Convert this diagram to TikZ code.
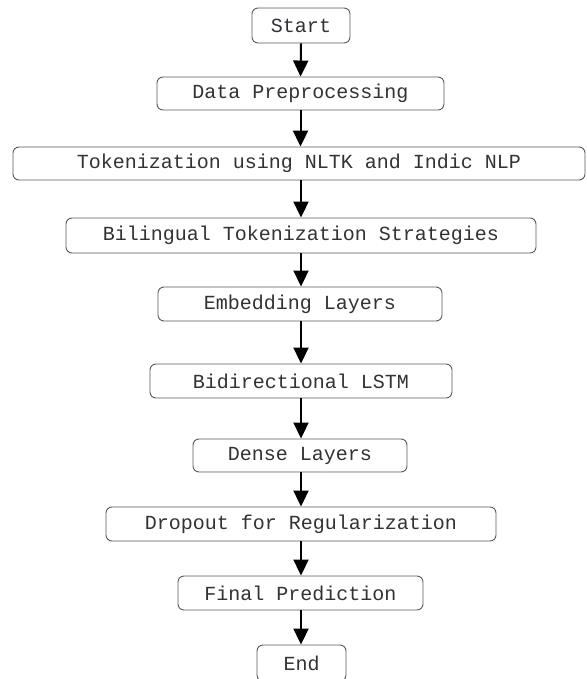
\documentclass[tikz,border=0pt]{standalone}
\usepackage{fontspec}
\setmonofont{Liberation Mono}
\usetikzlibrary{arrows.meta}
\definecolor{txt}{RGB}{50,50,55}
\definecolor{bord}{RGB}{90,90,90}
\tikzset{
  box/.style={draw=bord, line width=0.9pt, rounded corners=6pt, fill=white,
    inner sep=0pt, text=txt, font=\ttfamily\fontsize{20}{23}\selectfont},
  arr/.style={-{Triangle[length=16pt,width=15pt]}, line width=2pt, black}
}
\begin{document}
\begin{tikzpicture}[x=1pt,y=-1pt]
\useasboundingbox (0,0) rectangle (586,679);
\node[box, minimum width=98pt, minimum height=35pt] (start) at (301,25.5) {Start};
\node[box, minimum width=287pt, minimum height=33pt] (pre) at (300.5,93.5) {Data Preprocessing};
\node[box, minimum width=572pt, minimum height=33pt] (tok) at (299,163.5) {Tokenization using NLTK and Indic NLP};
\node[box, minimum width=470pt, minimum height=35pt] (bil) at (301,235.5) {Bilingual Tokenization Strategies};
\node[box, minimum width=284pt, minimum height=34pt] (emb) at (300,304) {Embedding Layers};
\node[box, minimum width=302pt, minimum height=34pt] (lstm) at (301,381) {Bidirectional LSTM};
\node[box, minimum width=214pt, minimum height=33pt] (dense) at (300,455.5) {Dense Layers};
\node[box, minimum width=390pt, minimum height=34pt] (drop) at (301,524) {Dropout for Regularization};
\node[box, minimum width=245pt, minimum height=34pt] (pred) at (300.5,593) {Final Prediction};
\node[box, minimum width=89pt, minimum height=36pt] (end) at (301.5,663) {End};
\draw[arr] (start.south) -- (pre.north);
\draw[arr] (pre.south) -- (tok.north -| pre.south);
\draw[arr] (tok.south -| start.south) -- (bil.north -| start.south);
\draw[arr] (bil.south) -- (emb.north -| bil.south);
\draw[arr] (emb.south -| bil.south) -- (lstm.north -| bil.south);
\draw[arr] (lstm.south -| bil.south) -- (dense.north -| bil.south);
\draw[arr] (dense.south -| bil.south) -- (drop.north -| bil.south);
\draw[arr] (drop.south -| bil.south) -- (pred.north -| bil.south);
\draw[arr] (pred.south -| bil.south) -- (end.north -| bil.south);
\end{tikzpicture}
\end{document}
